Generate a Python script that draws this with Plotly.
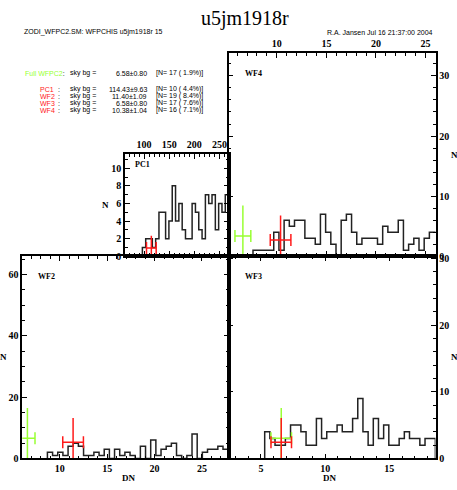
import plotly.graph_objects as go

W, H = 457, 490

title_text = "u5jm1918r"
header_left = "ZODI_WFPC2.SM: WFPCHIS u5jm1918r 15"
header_right = "R.A. Jansen Jul 16 21:37:00 2004"

# summary table
row_labels = ["Full WFPC2", "PC1", "WF2", "WF3", "WF4"]
row_bg = [6.58, 114.43, 11.40, 6.58, 10.38]
row_sig = [0.80, 9.63, 1.09, 0.80, 1.04]
row_n = [17, 10, 19, 17, 16]
row_pct = [1.9, 4.4, 8.4, 7.6, 7.1]

full_bg, full_sig = 6.58, 0.80

# histograms (first bin edge, bin width, counts)
pc1_start, pc1_bw = 96.6, 6.6
pc1_counts = [1, 2, 2, 1, 2, 5, 5, 2, 4, 8, 4, 6, 3, 2, 2, 6, 5, 3, 2, 7, 6, 7, 3, 6, 5, 7]
wf2_start, wf2_bw = 8.69, 0.545
wf2_counts = [2, 1, 2, 1, 4, 5, 4, 1, 1, 2, 1, 3, 0, 3, 1, 2, 1, 0, 4, 0,
              6, 1, 3, 4, 5, 1, 0, 1, 8, 0, 2, 3, 3, 4, 3]
wf3_start, wf3_bw = 5.29, 0.403
wf3_counts = [4, 3, 2, 2, 3, 5, 5, 4, 2, 2, 6, 3, 4, 4, 5, 4, 4, 6, 9, 4,
              2, 6, 3, 5, 2, 2, 3, 4, 3, 3, 2, 3, 3]
wf4_start, wf4_bw = 7.60, 0.523
wf4_counts = [1, 1, 1, 1, 4, 1, 6, 5, 6, 6, 3, 3, 2, 7, 4, 2, 0, 6, 7, 4,
              2, 3, 3, 3, 2, 5, 4, 4, 6, 1, 2, 3, 1, 3, 4, 4]

GREEN = "#99ff33"
RED = "#ff1a1a"


def px(x):
    return x / W


def py(y):
    return 1 - y / H


# panel geometry in pixels: (x0, x1, y0_top, y1_bottom)
panels = {
    "PC1": dict(box=(125, 228.5, 154, 258), xr=[62, 268], yr=[0, 11.6],
                xd=50, xm=10, yd=2, ym=1, xside="top", yside="left",
                xlab=True, ylab=True, start=pc1_start, bw=pc1_bw,
                counts=pc1_counts, bg=row_bg[1], sig=row_sig[1]),
    "WF4": dict(box=(228.5, 435.5, 51, 258), xr=[5.13, 26.0], yr=[0, 33.8],
                xd=5, xm=1, yd=10, ym=2, xside="top", yside="right",
                xlab=True, ylab=True, start=wf4_start, bw=wf4_bw,
                counts=wf4_counts, bg=row_bg[4], sig=row_sig[4]),
    "WF2": dict(box=(22.3, 228.5, 258, 464), xr=[6.04, 27.8], yr=[0, 66],
                xd=5, xm=1, yd=20, ym=5, xside="bottom", yside="left",
                xlab=True, ylab=True, start=wf2_start, bw=wf2_bw,
                counts=wf2_counts, bg=row_bg[2], sig=row_sig[2]),
    "WF3": dict(box=(228.5, 435.5, 258, 464), xr=[2.47, 18.6], yr=[0, 30.3],
                xd=5, xm=1, yd=10, ym=2, xside="bottom", yside="right",
                xlab=True, ylab=True, start=wf3_start, bw=wf3_bw,
                counts=wf3_counts, bg=row_bg[3], sig=row_sig[3]),
}

fig = go.Figure()
layout = dict(width=W, height=H, margin=dict(l=0, r=0, t=0, b=0),
              paper_bgcolor="white", plot_bgcolor="white", showlegend=False)

tickfont = dict(family="Liberation Serif", size=10, color="black", weight="bold")
annotations = []

for i, (name, p) in enumerate(panels.items(), start=1):
    xa = "xaxis" if i == 1 else f"xaxis{i}"
    ya = "yaxis" if i == 1 else f"yaxis{i}"
    xref = "x" if i == 1 else f"x{i}"
    yref = "y" if i == 1 else f"y{i}"
    x0, x1, yt, yb = p["box"]
    common = dict(showline=True, linecolor="black", linewidth=1.6, mirror="allticks",
                  ticks="inside", ticklen=5, tickwidth=1.2, tickcolor="black",
                  showgrid=False, zeroline=False, tickfont=tickfont, fixedrange=True)
    layout[xa] = dict(common, domain=[px(x0), px(x1)], range=p["xr"], anchor=yref,
                      side=p["xside"], tick0=0, dtick=p["xd"],
                      showticklabels=p["xlab"],
                      minor=dict(ticks="inside", ticklen=3, tickwidth=1, dtick=p["xm"],
                                 tickcolor="black", showgrid=False))
    layout[ya] = dict(common, domain=[py(yb), py(yt)], range=p["yr"], anchor=xref,
                      side=p["yside"], tick0=0, dtick=p["yd"],
                      showticklabels=p["ylab"],
                      minor=dict(ticks="inside", ticklen=3, tickwidth=1, dtick=p["ym"],
                                 tickcolor="black", showgrid=False))

    # histogram as step outline
    n = len(p["counts"])
    xs = [p["start"]] + [p["start"] + k * p["bw"] for k in range(n)] + [p["start"] + n * p["bw"]]
    ys = [0] + list(p["counts"]) + [0]
    fig.add_trace(go.Scatter(x=xs, y=ys, mode="lines", line=dict(color="#222222", width=1.5, shape="hv"),
                             xaxis=xref, yaxis=yref, hoverinfo="skip", cliponaxis=True))

    Hy = p["yr"][1]
    # green (full WFPC2) cross
    if p["xr"][0] < full_bg < p["xr"][1]:
        fig.add_trace(go.Scatter(
            x=[full_bg], y=[0.10 * Hy], mode="markers", marker=dict(size=1, color=GREEN),
            error_x=dict(type="constant", value=full_sig, color=GREEN, thickness=1.5, width=6),
            error_y=dict(type="data", array=[0.15 * Hy], arrayminus=[0.10 * Hy], symmetric=False,
                         color=GREEN, thickness=1.5, width=0),
            xaxis=xref, yaxis=yref, hoverinfo="skip"))
    # red (this chip) cross
    fig.add_trace(go.Scatter(
        x=[p["bg"]], y=[0.08 * Hy], mode="markers", marker=dict(size=1, color=RED),
        error_x=dict(type="constant", value=p["sig"], color=RED, thickness=1.5, width=6),
        error_y=dict(type="data", array=[0.12 * Hy], arrayminus=[0.08 * Hy], symmetric=False,
                     color=RED, thickness=1.5, width=0),
        xaxis=xref, yaxis=yref, hoverinfo="skip"))

    # panel label
    off = (8, 11) if name == "PC1" else (14, 21)
    annotations.append(dict(x=px(x0 + off[0]), y=py(yt + off[1]), xref="paper", yref="paper",
                            text=name, showarrow=False, xanchor="left", yanchor="middle",
                            font=dict(family="Liberation Serif", size=8, color="black", weight="bold")))

lab_font = dict(family="Liberation Serif", size=9, color="black", weight="bold")
# axis titles
for (x, y, t) in [(129, 484, "DN"), (330, 484, "DN"), (3, 361, "N"), (454, 361, "N"),
                  (454, 155, "N"), (105, 206, "N")]:
    annotations.append(dict(x=px(x), y=py(y), xref="paper", yref="paper", text=t,
                            showarrow=False, xanchor="center", yanchor="middle", font=lab_font))

# title and header
annotations.append(dict(x=px(245), y=py(16), xref="paper", yref="paper", text=title_text,
                        showarrow=False, xanchor="center", yanchor="middle",
                        font=dict(family="Liberation Serif", size=20, color="black")))
small = dict(family="Liberation Sans", size=7, color="black")
annotations.append(dict(x=px(21.5), y=py(30), xref="paper", yref="paper", text=header_left,
                        showarrow=False, xanchor="left", yanchor="middle", font=small))
annotations.append(dict(x=px(435), y=py(30), xref="paper", yref="paper", text=header_right,
                        showarrow=False, xanchor="right", yanchor="middle", font=small))

# summary table rows
row_y = [71.7, 87.7, 95.0, 102.3, 109.3]
for k, lab in enumerate(row_labels):
    yk = py(row_y[k])
    if k == 0:
        annotations.append(dict(x=px(22.7), y=yk, xref="paper", yref="paper",
                                text=f"<span style='color:{GREEN}'>{lab}</span>:",
                                showarrow=False, xanchor="left", yanchor="middle", font=small))
    else:
        annotations.append(dict(x=px(38), y=yk, xref="paper", yref="paper",
                                text=f"<span style='color:{RED}'>{lab}</span>",
                                showarrow=False, xanchor="left", yanchor="middle", font=small))
        annotations.append(dict(x=px(56), y=yk, xref="paper", yref="paper", text=":",
                                showarrow=False, xanchor="left", yanchor="middle", font=small))
    annotations.append(dict(x=px(68.3), y=yk, xref="paper", yref="paper", text="sky bg =",
                            showarrow=False, xanchor="left", yanchor="middle", font=small))
    annotations.append(dict(x=px(148.5), y=yk, xref="paper", yref="paper",
                            text=f"{row_bg[k]:.2f}\u00b1{row_sig[k]:.2f}",
                            showarrow=False, xanchor="right", yanchor="middle", font=small))
    annotations.append(dict(x=px(154), y=yk, xref="paper", yref="paper",
                            text=f"[N= {row_n[k]} ( {row_pct[k]:.1f}%)]",
                            showarrow=False, xanchor="left", yanchor="middle", font=small))

layout["annotations"] = annotations
fig.update_layout(**layout)
fig.write_html(
    "out.html",
    config={"displayModeBar": False, "responsive": False},
    post_script=(
        "document.documentElement.style.margin='0';"
        "document.documentElement.style.overflow='hidden';"
        "document.body.style.margin='0';document.body.style.padding='0';"
        "document.body.style.overflow='hidden';"
        "var d=document.querySelector('.plotly-graph-div');"
        "d.style.position='fixed';d.style.top='0px';d.style.left='0px';"
    ),
)
